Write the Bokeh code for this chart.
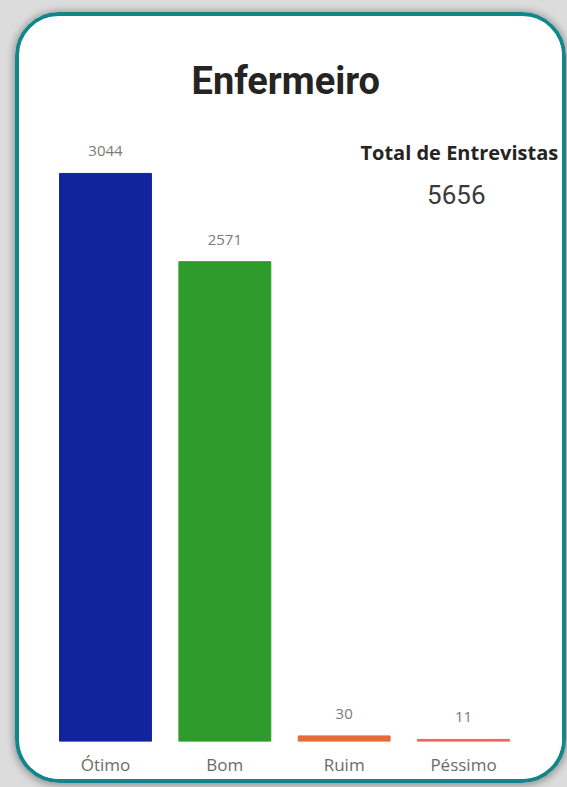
from bokeh.plotting import figure
from bokeh.models import ColumnDataSource, LabelSet, Label, Range1d, FixedTicker
from bokeh.embed import file_html
from bokeh.resources import INLINE
from bokeh.core.properties import value

# ---- data ----
categories = ["Ótimo", "Bom", "Ruim", "Péssimo"]
counts = [3044, 2571, 30, 11]
bar_colors = ["#12239E", "#2E9C2A", "#E66C37", "#F4615F"]
title_text = "Enfermeiro"
total_caption = "Total de Entrevistas"
total_value = 5656

positions = list(range(len(categories)))

source = ColumnDataSource(dict(
    x=positions,
    count=counts,
    color=bar_colors,
    label=[str(c) for c in counts],
))

p = figure(
    x_range=Range1d(-0.7207, 3.8297),
    y_range=Range1d(0, 3408),
    width=543, height=763,
    output_backend="svg", toolbar_location=None,
    y_axis_location=None,
    min_border_left=0, min_border_right=8,
    min_border_top=89, min_border_bottom=46,
)

p.vbar(x="x", top="count", width=0.77, color="color", source=source)

p.add_layout(LabelSet(
    x="x", y="count", text="label", source=source,
    text_align="center", text_baseline="middle", y_offset=22,
    text_font=value("Open Sans"), text_font_size="15px", text_color="#7a7a7a",
))

p.add_layout(Label(
    x=2.965, y=3154, text=total_caption,
    text_align="center", text_baseline="middle",
    text_font="Open Sans", text_font_style="bold", text_font_size="20px",
    text_color="#252423",
))
p.add_layout(Label(
    x=2.94, y=2931, text=str(total_value),
    text_align="center", text_baseline="middle",
    text_font="Roboto", text_font_size="26px", text_color="#3a3a3a",
))

p.title.text = title_text
p.title.align = "left"
p.title.offset = 172
p.title.text_font = "Roboto"
p.title.text_font_style = "bold"
p.title.text_font_size = "38px"
p.title.text_color = "#252423"
p.title.standoff = 5

p.xaxis.ticker = FixedTicker(ticks=positions)
p.xaxis.major_label_overrides = {i: c for i, c in zip(positions, categories)}
p.xaxis.axis_line_color = None
p.xaxis.major_tick_line_color = None
p.xaxis.minor_tick_line_color = None
p.xaxis.major_tick_out = 0
p.xaxis.major_label_standoff = 11
p.xaxis.major_label_text_font = "Open Sans"
p.xaxis.major_label_text_font_size = "17px"
p.xaxis.major_label_text_color = "#6b6b6b"

p.xgrid.grid_line_color = None
p.ygrid.grid_line_color = None
p.outline_line_color = None
p.background_fill_color = "white"
p.border_fill_color = "white"

p.styles = {
    "margin-left": "15px",
    "margin-top": "12px",
    "box-sizing": "content-box",
    "border": "4px solid #13868a",
    "border-radius": "44px",
    "overflow": "hidden",
    "box-shadow": "0 1px 7px 2px rgba(0,0,0,0.30), 0 0 0 40px #dcdcdc",
}

open("out.html", "w").write(file_html(p, INLINE))
